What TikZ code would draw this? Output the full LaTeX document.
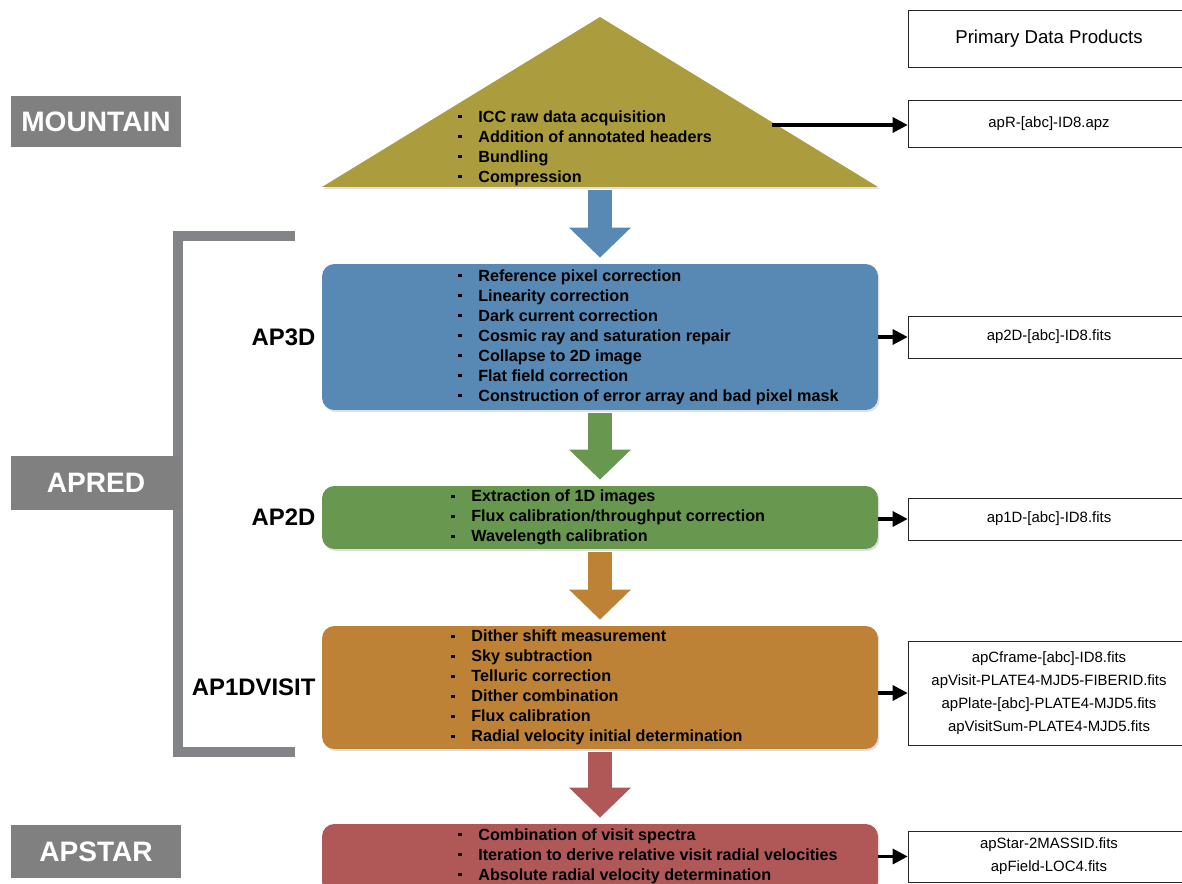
\documentclass[tikz,border=0pt]{standalone}
\usepackage{fontspec}
\setmainfont{Liberation Sans}
\usetikzlibrary{arrows.meta,positioning,shadows}
\definecolor{apolive}{RGB}{171,157,62}
\definecolor{apblue}{RGB}{88,136,180}
\definecolor{apgreen}{RGB}{104,152,80}
\definecolor{apbrown}{RGB}{190,130,55}
\definecolor{apred}{RGB}{176,88,88}
\definecolor{apgray}{RGB}{128,128,128}
\definecolor{apbracket}{RGB}{130,132,136}
\newcommand{\itm}{\makebox[0.4cm][l]{\raisebox{0.45ex}{\rule{1.8pt}{1.8pt}}}}
\tikzstyle{stagebox} = [rectangle, rounded corners=7pt, minimum width=11.12cm, drop shadow={opacity=0.25, shadow xshift=0.03cm, shadow yshift=-0.04cm}]
\tikzstyle{steps} = [anchor=west, align=left, inner sep=0pt, font=\bfseries\fontsize{9.2}{11.38}\selectfont]
\tikzstyle{product} = [rectangle, draw=black!85, minimum width=5.64cm, align=center, font=\fontsize{8.5}{13}\selectfont]
\tikzstyle{phase} = [rectangle, fill=apgray, minimum width=3.4cm, text=white, font=\bfseries\fontsize{16}{18}\selectfont]
\tikzstyle{module} = [font=\bfseries\fontsize{13.6}{15}\selectfont, inner sep=0pt]
\tikzstyle{flow} = [line width=0.48cm, shorten <=0.06cm, shorten >=0.12cm, -{Triangle[length=0.6cm, width=1.2cm]}]
\tikzstyle{outarrow} = [line width=1.8pt, -{Triangle[length=0.3cm, width=0.3cm]}]
\begin{document}
\begin{tikzpicture}[x=0.02cm, y=-0.02cm]
\clip (0,0) rectangle (1182,884);

% Left bracket and phases
\draw[apbracket, line width=0.2cm] (295,236) -| (178,752) -- (295,752);
\node[phase, minimum height=1.02cm] (mountain) at (96,121.5) {MOUNTAIN};
\node[phase, minimum height=1.08cm] (apred) at (96,483) {APRED};
\node[phase, minimum height=1.06cm] (apstar) at (96,851.5) {APSTAR};

% Mountain triangle
\fill[apolive, drop shadow={opacity=0.25, shadow xshift=0.03cm, shadow yshift=-0.04cm}] (322,187) -- (600,17) -- (878,187) -- cycle;
\coordinate (mtnbase) at (600,187);
\coordinate (mtnout) at (772,125);
\node[steps] (tmtn) at (458,148) {\itm ICC raw data acquisition\\ \itm Addition of annotated headers\\ \itm Bundling\\ \itm Compression};

% Stages
\node[stagebox, fill=apblue, minimum height=2.92cm] (b3d) at (600,337) {};
\node[stagebox, fill=apgreen, minimum height=1.26cm] (b2d) at (600,517.5) {};
\node[stagebox, fill=apbrown, minimum height=2.46cm] (b1v) at (600,687.5) {};
\node[stagebox, fill=apred, minimum height=1.4cm] (bst) at (600,859) {};

\node[steps] (t3d) at (458,337) {\itm Reference pixel correction\\ \itm Linearity correction\\ \itm Dark current correction\\ \itm Cosmic ray and saturation repair\\ \itm Collapse to 2D image\\ \itm Flat field correction\\ \itm Construction of error array and bad pixel mask};
\node[steps] (t2d) at (451,517.5) {\itm Extraction of 1D images\\ \itm Flux calibration/throughput correction\\ \itm Wavelength calibration};
\node[steps] (t1v) at (451,687.5) {\itm Dither shift measurement\\ \itm Sky subtraction\\ \itm Telluric correction\\ \itm Dither combination\\ \itm Flux calibration\\ \itm Radial velocity initial determination};
\node[steps] (tst) at (458,856) {\itm Combination of visit spectra\\ \itm Iteration to derive relative visit radial velocities\\ \itm Absolute radial velocity determination};

% Module labels
\node[module, left=0.12cm of b3d] (l3d) {AP3D};
\node[module, left=0.12cm of b2d] (l2d) {AP2D};
\node[module, left=0.12cm of b1v] (l1v) {AP1DVISIT};

% Flow between stages
\draw[flow, apblue] (mtnbase) -- (b3d.north);
\draw[flow, apgreen] (b3d.south) -- (b2d.north);
\draw[flow, apbrown] (b2d.south) -- (b1v.north);
\draw[flow, apred] (b1v.south) -- (bst.north);

% Primary data products
\node[product, minimum height=1.14cm, font=\fontsize{10.6}{12}\selectfont] (pdp) at (1049,38.5) {Primary Data Products};
\node[product, minimum height=0.94cm] (pmtn) at (1049,123.5) {apR-[abc]-ID8.apz};
\node[product, minimum height=0.84cm] (p3d) at (1049,337) {ap2D-[abc]-ID8.fits};
\node[product, minimum height=0.84cm] (p2d) at (1049,519) {ap1D-[abc]-ID8.fits};
\node[product, minimum height=2.08cm] (p1v) at (1049,693) {apCframe-[abc]-ID8.fits\\ apVisit-PLATE4-MJD5-FIBERID.fits\\ apPlate-[abc]-PLATE4-MJD5.fits\\ apVisitSum-PLATE4-MJD5.fits};
\node[product, minimum height=1.02cm] (pst) at (1049,856.5) {apStar-2MASSID.fits\\ apField-LOC4.fits};

\draw[outarrow] (mtnout) -- (mtnout -| pmtn.west);
\draw[outarrow] (b3d.east |- p3d.west) -- (p3d.west);
\draw[outarrow] (b2d.east |- p2d.west) -- (p2d.west);
\draw[outarrow] (b1v.east |- p1v.west) -- (p1v.west);
\draw[outarrow] (bst.east |- pst.west) -- (pst.west);
\end{tikzpicture}
\end{document}
